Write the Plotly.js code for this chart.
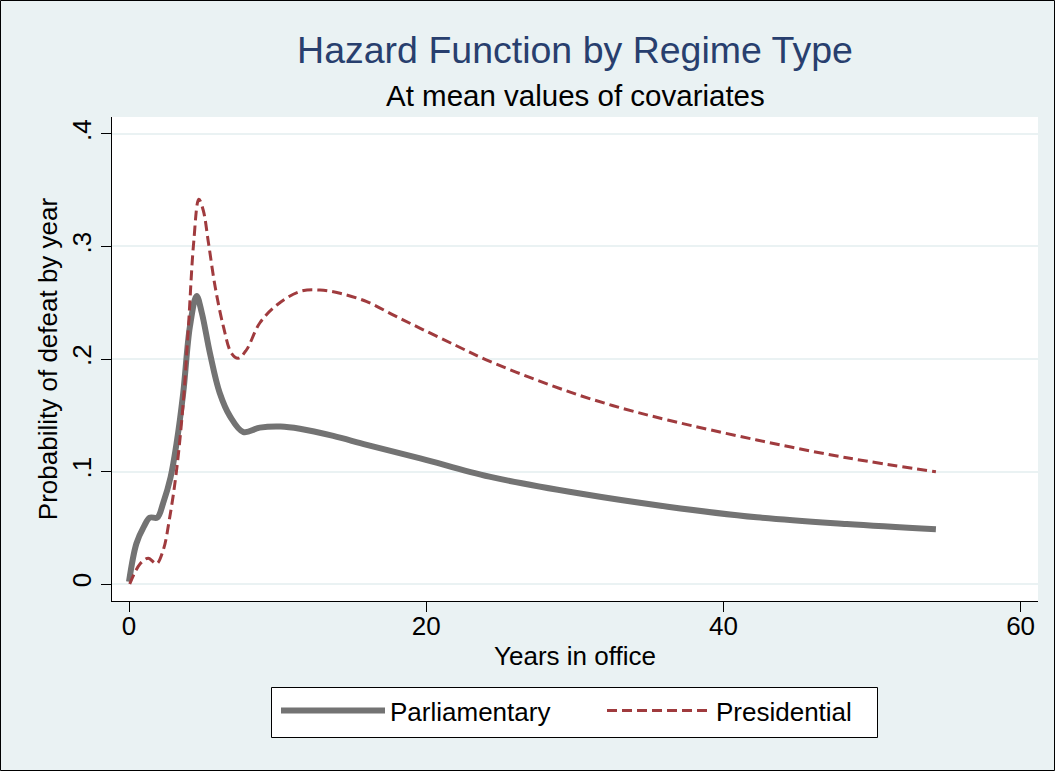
<!DOCTYPE html>
<html>
<head>
<meta charset="utf-8">
<script src="https://cdn.plot.ly/plotly-3.0.1.min.js"></script>
<style>
  html, body { margin: 0; padding: 0; background: #EAF2F3; }
  #chart { width: 1055px; height: 771px; }
</style>
</head>
<body>
<div id="chart"></div>
<script>
// Years in office (x) and hazard (probability of defeat by year)
var yearsParl = [0, 0.5, 1.0, 1.4, 1.9, 2.3, 2.8, 3.2, 3.65, 4.1, 4.55, 4.9, 5.45, 6.1, 6.8, 7.7, 8.8, 10.2, 11.5, 13.75, 16.0, 19.6, 24.25, 30.25, 36.25, 42.25, 48.3, 54.3];
var hazParl  = [0.002, 0.036, 0.051, 0.059, 0.059, 0.072, 0.095, 0.125, 0.170, 0.229, 0.256, 0.241, 0.205, 0.170, 0.149, 0.135, 0.139, 0.140, 0.138, 0.1316, 0.1236, 0.1117, 0.0954, 0.0806, 0.0687, 0.0593, 0.0533, 0.0486];

var yearsPres = [0.05, 0.75, 1.3, 1.85, 2.3, 2.75, 3.2, 3.65, 4.0, 4.35, 4.7, 5.0, 5.35, 5.8, 6.35, 6.9, 7.35, 7.9, 8.8, 9.95, 11.5, 12.85, 14.2, 16.0, 17.8, 19.6, 22.0, 24.0, 27.1, 30.25, 33.25, 36.25, 42.25, 48.3, 54.3];
var hazPres  = [0.0, 0.018, 0.023, 0.018, 0.030, 0.060, 0.101, 0.161, 0.229, 0.303, 0.342, 0.332, 0.303, 0.264, 0.229, 0.205, 0.2006, 0.208, 0.232, 0.248, 0.260, 0.2613, 0.2584, 0.251, 0.239, 0.2273, 0.212, 0.1995, 0.183, 0.168, 0.156, 0.1458, 0.128, 0.1122, 0.0998];

var seriesNames = ["Parliamentary", "Presidential"];
var xTickVals = [0, 20, 40, 60];
var xTickText = ["0", "20", "40", "60"];
var yTickVals = [0, 0.1, 0.2, 0.3, 0.4];
var yTickText = ["0", ".1", ".2", ".3", ".4"];

var FONT = '"Liberation Sans", Arial, Helvetica, sans-serif';

// plot area in pixels (for converting frame decorations to paper coordinates)
var PL = 112, PR = 1038, PT = 117, PB = 601;
var PW = PR - PL, PH = PB - PT;
function px(x) { return (x - PL) / PW; }
function py(y) { return (PB - y) / PH; }

var traces = [
  {
    x: yearsParl, y: hazParl, name: seriesNames[0], type: 'scatter', mode: 'lines',
    line: { color: '#737373', width: 6, shape: 'spline', smoothing: 1 }
  },
  {
    x: yearsPres, y: hazPres, name: seriesNames[1], type: 'scatter', mode: 'lines',
    line: { color: '#A03B3E', width: 3, dash: '10px,5px', shape: 'spline', smoothing: 1 }
  }
];

var layout = {
  width: 1055, height: 771,
  paper_bgcolor: '#EAF2F3',
  plot_bgcolor: '#FFFFFF',
  margin: { l: PL, r: 1055 - PR, t: PT, b: 771 - PB, pad: 0 },
  font: { family: FONT, size: 26, color: '#000000' },
  showlegend: true,
  title: {
    text: 'Hazard Function by Regime Type',
    font: { family: FONT, size: 37.5, color: '#283F6E' },
    x: 0.5, xref: 'paper', y: 1 - 50 / 771, yref: 'container', yanchor: 'middle'
  },
  annotations: [
    {
      text: 'At mean values of covariates', showarrow: false,
      xref: 'paper', yref: 'paper', x: 0.5, y: py(96),
      xanchor: 'center', yanchor: 'middle',
      font: { family: FONT, size: 29.5, color: '#000000' }
    }
  ],
  xaxis: {
    range: [-1.144, 61.17],
    tickvals: xTickVals, ticktext: xTickText,
    ticks: 'outside', ticklen: 10, tickwidth: 1, tickcolor: '#000',
    ticklabelstandoff: -8,
    showline: true, linecolor: '#000', linewidth: 1,
    showgrid: false, zeroline: false,
    tickfont: { family: FONT, size: 26, color: '#000' },
    title: { text: 'Years in office', font: { family: FONT, size: 26, color: '#000' }, standoff: 6 }
  },
  yaxis: {
    range: [-0.0151, 0.4151],
    tickvals: yTickVals, ticktext: yTickText, tickangle: -90,
    ticks: 'outside', ticklen: 10, tickwidth: 1, tickcolor: '#000',
    showline: true, linecolor: '#000', linewidth: 1,
    showgrid: true, gridcolor: '#EAF2F3', gridwidth: 2, zeroline: false,
    tickfont: { family: FONT, size: 26, color: '#000' },
    title: { text: 'Probability of defeat by year', font: { family: FONT, size: 26, color: '#000' }, standoff: 1 }
  },
  legend: {
    orientation: 'h', x: px(276), xanchor: 'left', xref: 'paper',
    y: py(687), yanchor: 'top', yref: 'paper',
    bgcolor: 'rgba(0,0,0,0)', bordercolor: 'rgba(0,0,0,0)', borderwidth: 0,
    itemwidth: 104, entrywidth: 207, entrywidthmode: 'pixels',
    font: { family: FONT, size: 26, color: '#000' }
  },
  shapes: [
    {
      // legend frame
      type: 'rect', xref: 'paper', yref: 'paper', layer: 'above',
      x0: px(271.5), x1: px(877.5), y0: py(737.5), y1: py(687.5),
      line: { color: '#000000', width: 1 }, fillcolor: '#FFFFFF'
    },
    {
      // outer frame of the graph
      type: 'rect', xref: 'paper', yref: 'paper', layer: 'above',
      x0: px(0.5), x1: px(1054.5), y0: py(770.5), y1: py(0.5),
      line: { color: '#000000', width: 1 }, fillcolor: 'rgba(0,0,0,0)'
    }
  ]
};

Plotly.newPlot('chart', traces, layout, { displayModeBar: false, responsive: false });
</script>
</body>
</html>
